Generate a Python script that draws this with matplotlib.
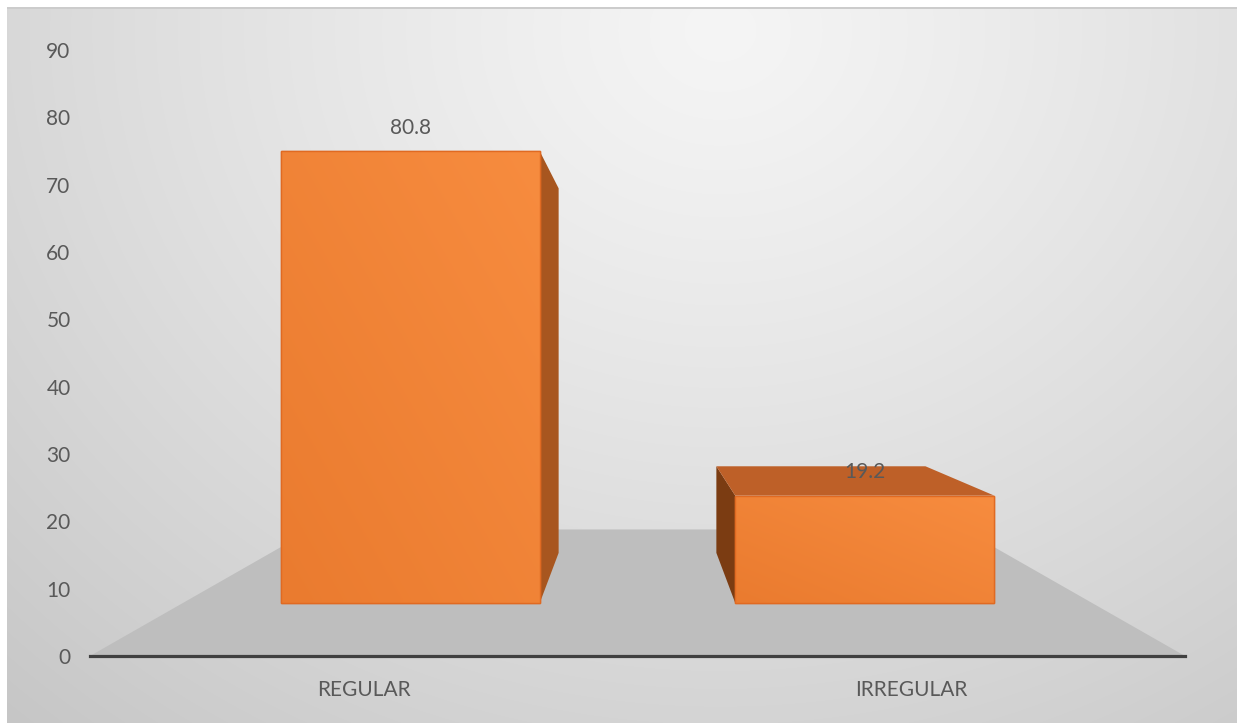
import numpy as np
import matplotlib
matplotlib.use("Agg")
import matplotlib.pyplot as plt
from matplotlib.patches import Polygon

# ---------------- data ----------------
categories = ["REGULAR", "IRREGULAR"]
values = [80.8, 19.2]
value_labels = ["80.8", "19.2"]
y_ticks = [0, 10, 20, 30, 40, 50, 60, 70, 80, 90]

# ---------------- style / perspective ----------------
W, H = 1237, 723
TEXT = "#595959"
FONT = "Lato"
FS = 15
XV, YV = 0.5, 46.4            # vanishing point (data units)
S_BAR_FRONT, S_BAR_BACK = 0.83, 0.67
S_FLOOR_BACK = 0.595
BAR_W = 0.57
FRONT_C = "#ED7D31"
SIDE_C = "#A8561F"
SIDE_DARK_C = "#7B3C12"
TOP_C = "#BE6028"
FLOOR_C = "#BEBEBE"

fig = plt.figure(figsize=(W / 100, H / 100), dpi=100)

# background gradient
bg = fig.add_axes([0, 0, 1, 1], zorder=-5)
yy, xx = np.mgrid[0:H, 0:W]
d = np.sqrt(((xx - 720) / 800.0) ** 2 + ((yy - 30) / 700.0) ** 2)
c = 0.96 - 0.13 * d ** 1.2
img = np.dstack([c, c, c])
img[:7, :, :] = 1.0
img[:, :7, :] = 1.0
img[7:9, 7:, :] = np.minimum(img[7:9, 7:, :], 0.80)
bg.imshow(np.clip(img, 0, 1), extent=[0, W, H, 0], aspect="auto", interpolation="bilinear")
bg.set_xlim(0, W)
bg.set_ylim(H, 0)
bg.axis("off")

# main axes: x -0.5..1.5 -> px 90..1185 ; y 0..90 -> px 656..50
left, right = 90 / W, 1185 / W
bottom, top = (H - 656) / H, (H - 50) / H
ax = fig.add_axes([left, bottom, right - left, top - bottom])
ax.set_facecolor("none")
ax.set_xlim(-0.5, 1.5)
ax.set_ylim(0, 90)


def proj(x, y, s):
    return (XV + s * (x - XV), YV + s * (y - YV))


# floor
floor = [proj(-0.5, 0, 1.0), proj(1.5, 0, 1.0),
         proj(1.5, 0, S_FLOOR_BACK), proj(-0.5, 0, S_FLOOR_BACK)]
ax.add_patch(Polygon(floor, closed=True, facecolor=FLOOR_C, edgecolor="none", zorder=1))

# bars
for i, (cat, v, lab) in enumerate(zip(categories, values, value_labels)):
    x0, x1 = i - BAR_W / 2, i + BAR_W / 2
    f = S_BAR_FRONT
    b = S_BAR_BACK
    # side faces
    if i < XV:
        side = [proj(x1, 0, f), proj(x1, v, f), proj(x1, v, b), proj(x1, 0, b)]
        ax.add_patch(Polygon(side, closed=True, facecolor=SIDE_C, edgecolor="none", zorder=3))
    else:
        side = [proj(x0, 0, f), proj(x0, v, f), proj(x0, v, b), proj(x0, 0, b)]
        ax.add_patch(Polygon(side, closed=True, facecolor=SIDE_DARK_C, edgecolor="none", zorder=3))
    if v < YV:
        topf = [proj(x0, v, f), proj(x1, v, f), proj(x1, v, b), proj(x0, v, b)]
        ax.add_patch(Polygon(topf, closed=True, facecolor=TOP_C, edgecolor="none", zorder=3))
    # front face with subtle gradient
    fx0, fy0 = proj(x0, 0, f)
    fx1, fy1 = proj(x1, v, f)
    front = Polygon([(fx0, fy0), (fx1, fy0), (fx1, fy1), (fx0, fy1)], closed=True,
                    facecolor=FRONT_C, edgecolor="#E06A22", lw=1.0, zorder=4)
    ax.add_patch(front)
    gx = np.linspace(0, 1, 60)
    gy = np.linspace(0, 1, 60)
    GX, GY = np.meshgrid(gx, gy)
    t = np.clip(0.5 * GX + 0.5 * GY, 0, 1)
    c0 = np.array([0xEA, 0x7B, 0x2F]) / 255.0
    c1 = np.array([0xF7, 0x8C, 0x3F]) / 255.0
    grad = c0[None, None, :] * (1 - t[..., None]) + c1[None, None, :] * t[..., None]
    im = ax.imshow(grad, extent=[fx0, fx1, fy0, fy1], origin="lower", aspect="auto",
                   zorder=4, interpolation="bilinear")
    im.set_clip_path(front)
    ax.add_patch(Polygon([(fx0, fy0), (fx1, fy0), (fx1, fy1), (fx0, fy1)], closed=True,
                         facecolor="none", edgecolor="#E06A22", lw=1.0, zorder=5))
    # value label
    lx, ly = proj(i, v, f)
    ax.annotate(lab, (lx, ly), xytext=(0, 17), textcoords="offset points",
                ha="center", va="center", fontsize=FS, color=TEXT,
                family=FONT, zorder=6)

# axis line
for s in ["top", "right", "left"]:
    ax.spines[s].set_visible(False)
ax.spines["bottom"].set_color("#404040")
ax.spines["bottom"].set_linewidth(2.3)
ax.spines["bottom"].set_zorder(2)

ax.set_yticks(y_ticks)
ax.set_yticklabels([str(t) for t in y_ticks], family=FONT, fontsize=FS, color=TEXT)
ax.set_xticks(range(len(categories)))
ax.set_xticklabels(categories, family=FONT, fontsize=FS, color=TEXT)
ax.tick_params(axis="y", length=0, pad=14)
ax.tick_params(axis="x", length=0, pad=17)

fig.savefig("out.png", dpi=100)
